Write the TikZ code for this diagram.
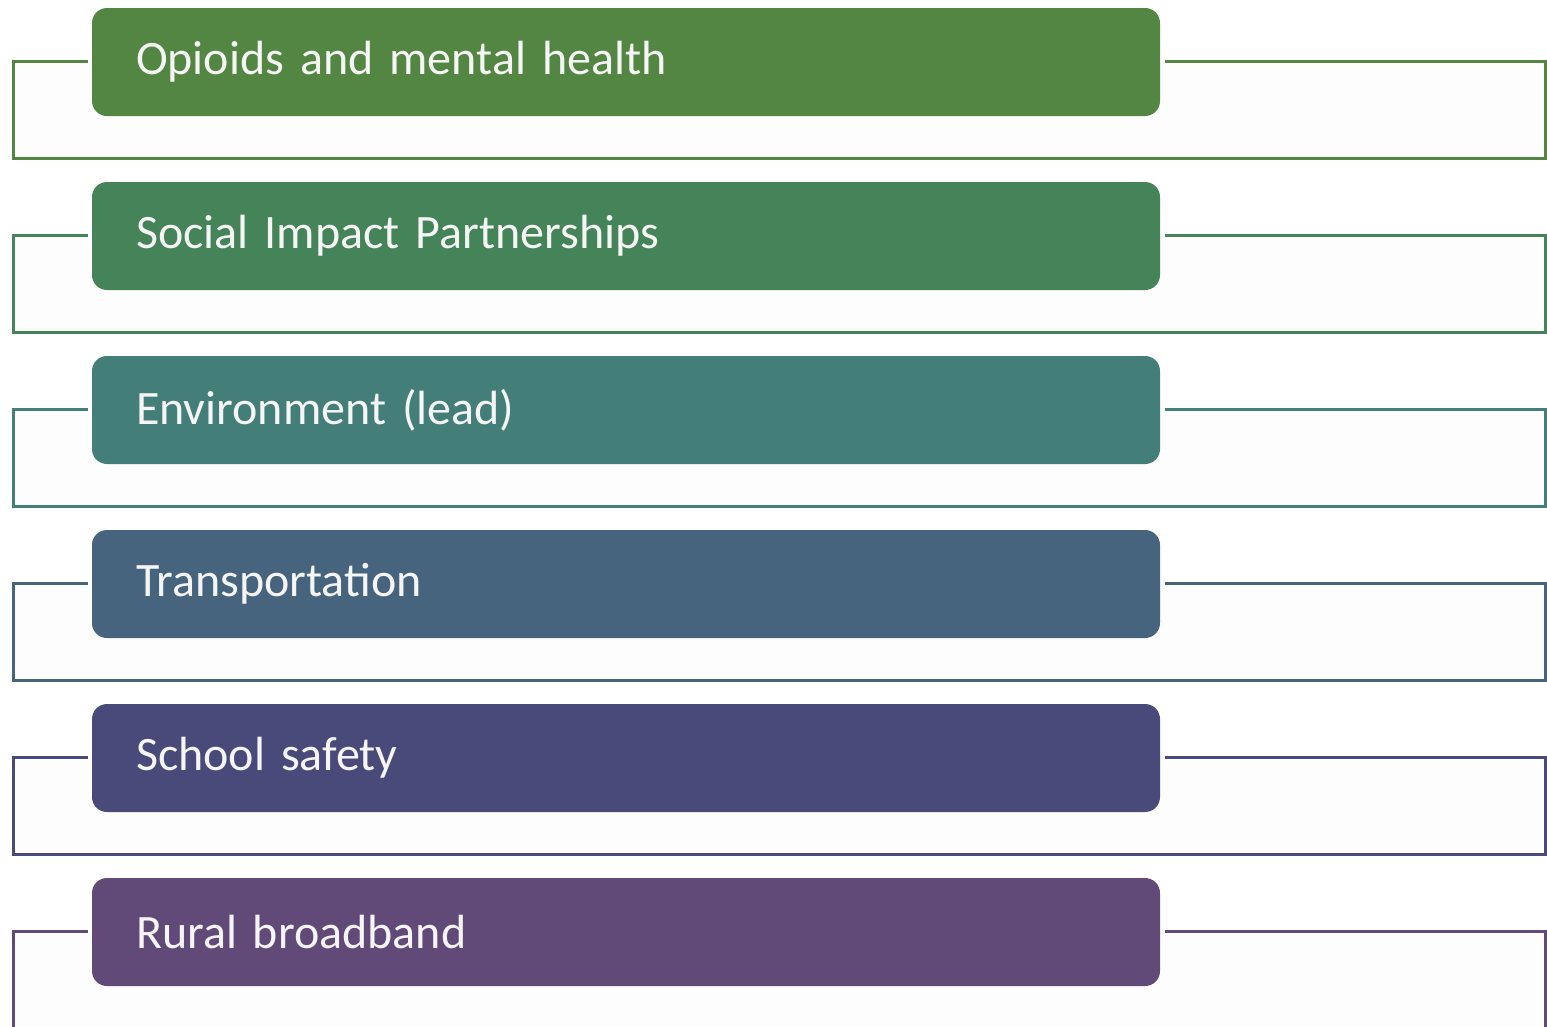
\documentclass[tikz,border=0pt]{standalone}
\usepackage{fontspec}
\setmainfont{Carlito}
\definecolor{c1}{HTML}{538642}
\definecolor{c2}{HTML}{448458}
\definecolor{c3}{HTML}{437F78}
\definecolor{c4}{HTML}{46647D}
\definecolor{c5}{HTML}{494A7A}
\definecolor{c6}{HTML}{614A78}
\begin{document}
\begin{tikzpicture}[x=1pt,y=-1pt,
  topic/.style={draw=none, rounded corners=15pt, minimum width=1068pt, minimum height=108pt,
    text width=980pt, align=left, inner xsep=44pt, font=\fontsize{48}{56}\selectfont, text=white!96!black},
  link/.style={line width=3pt}]
\useasboundingbox (0,0) rectangle (1547,1026);
\fill[white] (0,0) rectangle (1547,1026);
\foreach \i/\c/\t in {0/c1/Opioids and mental health,1/c2/Social Impact Partnerships,2/c3/Environment (lead),3/c4/Transportation,4/c5/School safety,5/c6/Rural broadband}{
  \pgfmathsetmacro{\yc}{62+174*\i}
  \pgfmathsetmacro{\yl}{61+174*\i}
  \pgfmathsetmacro{\yb}{158+174*\i}
  \fill[black!0.6] (13,\yl) rectangle (1545,\yb);
  \node[topic, fill=\c] (b\i) at (626,\yc) {\t};
  \coordinate (L\i) at (13,\yl);
  \coordinate (R\i) at (1545,\yb);
  \draw[link, draw=\c] ([xshift=-4pt]b\i.west |- L\i) -- (L\i) |- (R\i) |- ([xshift=5pt]b\i.east |- L\i);
}
\end{tikzpicture}
\end{document}
